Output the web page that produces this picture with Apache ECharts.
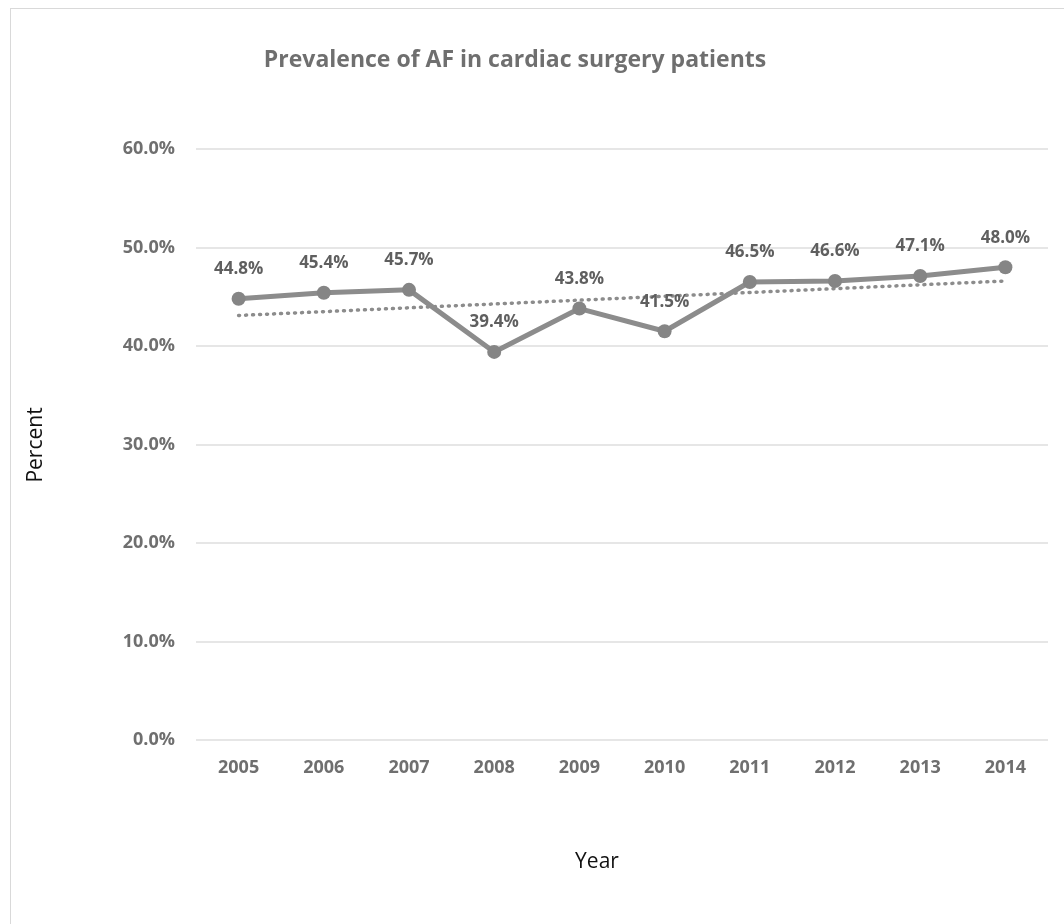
<!DOCTYPE html>
<html>
<head>
<meta charset="utf-8">
<script src="https://cdn.jsdelivr.net/npm/echarts@6/dist/echarts.min.js"></script>
<style>
html,body{margin:0;padding:0;background:#fff;}
#frame{position:absolute;left:10px;top:8px;width:1100px;height:960px;border:1.5px solid #d9d9d9;box-sizing:border-box;}
#chart{position:absolute;left:0;top:0;width:1064px;height:924px;}
</style>
</head>
<body>
<div id="frame"></div>
<div id="chart"></div>
<script>
const years = ['2005','2006','2007','2008','2009','2010','2011','2012','2013','2014'];
const prevalence = [44.8, 45.4, 45.7, 39.4, 43.8, 41.5, 46.5, 46.6, 47.1, 48.0];
const trendEnds = [43.1, 46.6]; // linear trendline at first and last year
const yTicks = [0, 10, 20, 30, 40, 50, 60];

const trendData = years.map((y, i) => i === 0 ? trendEnds[0] : (i === years.length - 1 ? trendEnds[1] : '-'));

const font = "'Open Sans', 'Liberation Sans', sans-serif";
const chart = echarts.init(document.getElementById('chart'), null, {renderer: 'canvas'});
chart.setOption({
  animation: false,
  backgroundColor: 'transparent',
  title: {
    text: 'Prevalence of AF in cardiac surgery patients',
    left: 510, top: 44, textAlign: 'center',
    textStyle: {fontFamily: font, fontSize: 23, fontWeight: 'bold', color: '#6f6f6f'}
  },
  grid: {left: 196, right: 16, top: 149, bottom: 184, containLabel: false},
  graphic: [
    {type: 'text', x: 36, y: 445, rotation: Math.PI / 2,
      style: {text: 'Percent', fontFamily: font, fontSize: 21, fill: '#111', align: 'center', verticalAlign: 'middle'}},
    {type: 'text', x: 597, y: 862,
      style: {text: 'Year', fontFamily: font, fontSize: 21, fill: '#111', align: 'center', verticalAlign: 'middle'}}
  ],
  xAxis: {
    type: 'category', data: years, boundaryGap: true,
    axisLine: {show: false}, axisTick: {show: false},
    axisLabel: {fontFamily: font, fontSize: 18, fontWeight: 'bold', color: '#6f6f6f', margin: 19}
  },
  yAxis: {
    type: 'value', min: yTicks[0], max: yTicks[yTicks.length - 1], interval: 10,
    axisLine: {show: false}, axisTick: {show: false},
    axisLabel: {fontFamily: font, fontSize: 18, fontWeight: 'bold', color: '#6f6f6f', margin: 21,
      formatter: v => v.toFixed(1) + '%'},
    splitLine: {lineStyle: {color: '#dedede', width: 1.5}}
  },
  series: [
    {
      type: 'line', data: trendData, connectNulls: true, symbol: 'none', z: 1,
      lineStyle: {color: '#8c8c8c', width: 3.5, type: [1, 6], cap: 'round'}
    },
    {
      type: 'line', data: prevalence, symbol: 'circle', symbolSize: 14, z: 2,
      lineStyle: {color: '#8c8c8c', width: 5},
      itemStyle: {color: '#858585'},
      label: {show: true, position: 'top', distance: 14,
        fontFamily: font, fontSize: 17, fontWeight: 'bold', color: '#5f5f5f',
        formatter: p => p.value.toFixed(1) + '%'}
    }
  ]
});
</script>
</body>
</html>
